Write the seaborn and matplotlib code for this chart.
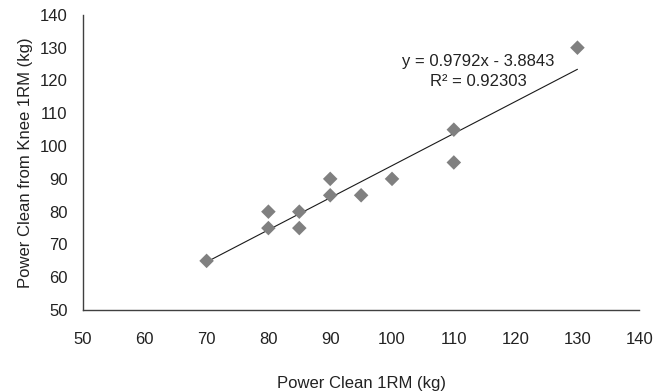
import numpy as np
import pandas as pd
import matplotlib
matplotlib.use("Agg")
import matplotlib.pyplot as plt
import seaborn as sns

power_clean = [70, 80, 80, 85, 85, 90, 90, 95, 100, 110, 110, 130]
power_clean_knee = [65, 80, 75, 80, 75, 90, 85, 85, 90, 105, 95, 130]
x_ticks = [50, 60, 70, 80, 90, 100, 110, 120, 130, 140]
y_ticks = [50, 60, 70, 80, 90, 100, 110, 120, 130, 140]
equation_text = "y = 0.9792x - 3.8843"
r2_text = "R² = 0.92303"

sns.set_style("white")
plt.rcParams['font.family'] = ['Liberation Sans', 'DejaVu Sans']

df = pd.DataFrame({"x": power_clean, "y": power_clean_knee})
slope, intercept = np.polyfit(df["x"], df["y"], 1)
fit = pd.DataFrame({"x": [df["x"].min(), df["x"].max()]})
fit["y"] = slope * fit["x"] + intercept

fig = plt.figure(figsize=(6.67, 3.92), dpi=100)
ax = fig.add_axes([0.1244, 0.209, 0.834, 0.753])

sns.lineplot(data=fit, x="x", y="y", ax=ax, color="#1a1a1a", linewidth=0.8, zorder=2)
sns.scatterplot(data=df, x="x", y="y", ax=ax, marker="D", s=55, color="#808080",
                edgecolor="none", zorder=3)

ax.set_xlim(50, 140)
ax.set_ylim(50, 140)
ax.set_xticks(x_ticks)
ax.set_yticks(y_ticks)
ax.tick_params(axis="x", length=0, pad=16, labelsize=12, labelcolor="#222222")
ax.tick_params(axis="y", length=0, pad=11, labelsize=12, labelcolor="#222222")

for s in ["top", "right"]:
    ax.spines[s].set_visible(False)
for s in ["left", "bottom"]:
    ax.spines[s].set_color("#404040")
    ax.spines[s].set_linewidth(1.0)

ax.set_xlabel("Power Clean 1RM (kg)", fontsize=12, color="#222222", labelpad=21)
ax.set_ylabel("Power Clean from Knee 1RM (kg)", fontsize=12, color="#222222", labelpad=5)

ax.text(0.71, 0.841, equation_text, transform=ax.transAxes, ha="center", va="center",
        fontsize=12, color="#222222")
ax.text(0.71, 0.773, r2_text, transform=ax.transAxes, ha="center", va="center",
        fontsize=12, color="#222222")

fig.savefig("out.png", dpi=100)
